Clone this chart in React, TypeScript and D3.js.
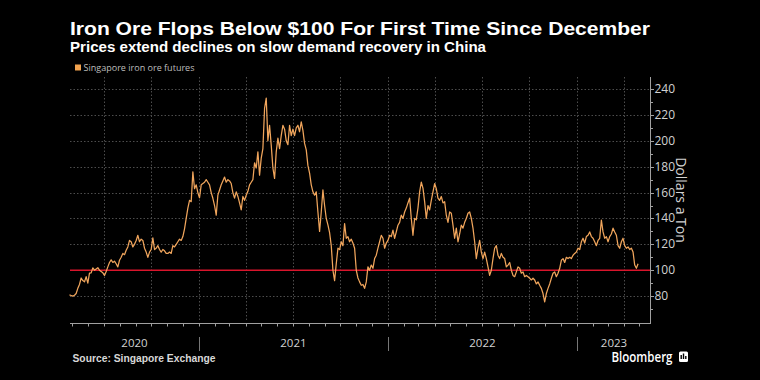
import React from "react";
import * as d3 from "d3";

const titleText = "Iron Ore Flops Below $100 For First Time Since December";
const subtitleText = "Prices extend declines on slow demand recovery in China";
const seriesName = "Singapore iron ore futures";
const sourceText = "Source: Singapore Exchange";
const axisTitle = "Dollars a Ton";
const brandText = "Bloomberg";

const yTickValues = [80, 100, 120, 140, 160, 180, 200, 220, 240];
const yMinorValues = [70, 90, 110, 130, 150, 170, 190, 210, 230];
const yDomain = [60, 249.3];
const xDomain = ["2020-04-27", "2023-05-24"];
const seriesStart = "2020-04-26";
const seriesEnd = "2023-04-29";
const threshold = 100;

// Apr 2020 - early 2021
const pricesA = [
  81, 80.5, 80, 80.7, 82, 86, 89, 94, 92, 91,
  95, 90, 97.7, 98, 101.8, 100, 101, 102, 100, 99,
  98, 96, 99, 102.6, 106, 108, 106, 107, 105, 102.6,
  107.7, 110, 113, 112, 115.5, 118, 123, 122, 118, 120,
  123, 127, 122, 124, 123, 117, 114, 110, 114, 116,
  125, 116, 117, 119, 116, 114, 116, 115, 113, 113,
  114, 113, 119, 118, 120, 122, 124, 123, 126, 132,
  140, 148, 154, 153, 176, 163, 166, 160, 156, 166,
  167, 168, 170, 168, 166, 160, 155.6, 150, 142.5,
];
// 2021
const pricesB = [
  158, 162, 166, 169, 172, 168, 170, 169, 167, 160,
  155.7, 160.6, 157, 152, 146.6, 157, 154, 158, 161, 166,
  168, 170, 183, 179, 191.5, 173.5, 186.6, 194, 225, 233,
  200, 212, 196.7, 179, 171, 191.5, 202, 194, 204, 212,
  209, 200, 197, 212, 204, 209, 204, 210, 212, 207,
  214.7, 208, 198, 193, 181, 175, 166, 160.6, 158, 160.6,
  145, 130, 145, 162, 150, 140, 135, 129, 119, 100,
  92, 105, 117, 116, 122, 119, 136, 124.7, 126, 122,
  124, 121, 117, 100, 94, 91,
];
// 2022
const pricesC = [
  88.4, 89, 86, 91, 102.6, 100, 104, 101.5, 109, 111.6,
  117, 122, 127, 124.7, 117, 121, 123, 127, 126, 131,
  124.7, 129.6, 134.8, 137, 142.5, 140, 145, 148, 152, 155.7,
  140, 127, 140, 139, 148, 160.6, 168, 163.4, 153, 140,
  150, 146.6, 154, 160.6, 167, 163, 155.7, 154, 157, 152,
  153, 142.5, 137, 145, 144, 134.8, 124.7, 132.5, 122, 128,
  134.8, 132.5, 137, 140, 144, 145, 140, 132.5, 122, 109,
  117, 123, 114, 109, 114, 109, 102.6, 96, 100, 109,
  117, 119, 111.6, 109, 113, 110, 109,
];
// late 2022 - 2023
const pricesD = [
  102.6, 104, 106, 100, 96, 95, 98.7, 102.6, 101.5, 97.7,
  98.7, 95, 96, 95, 93.8, 92.5, 93.8, 92.5, 89.4, 91,
  88.4, 86, 82, 75.5, 82, 86, 89.4, 93.8, 97.7, 98.7,
  95, 97.7, 101.5, 107.7, 109, 106, 110, 109, 110, 109,
  111.6, 113, 114, 117, 116, 122, 124.7, 121, 126, 127,
  129.6, 126, 124.7, 122, 119, 123, 124.7, 138.7, 129.6, 124.7,
  126, 122, 126, 128, 132.5, 129.6, 127, 119, 117, 122,
  124.7, 119, 117, 118, 116, 117, 114, 104, 101.5, 105,
];

const prices = [...pricesA, ...pricesB, ...pricesC, ...pricesD];

const parse = d3.utcParse("%Y-%m-%d");

export default function App() {
  const W = 760;
  const H = 380;
  const left = 70;
  const right = 650.5;
  const top = 77;
  const bottom = 322;

  const x = d3
    .scaleUtc()
    .domain(xDomain.map((d) => parse(d) as Date))
    .range([left, 651]);
  const y = d3.scaleLinear().domain(yDomain).range([bottom, top]);

  const t0 = (parse(seriesStart) as Date).getTime();
  const t1 = (parse(seriesEnd) as Date).getTime();
  const n = prices.length;
  const data: [Date, number][] = prices.map((v, i) => [
    new Date(t0 + ((t1 - t0) * i) / (n - 1)),
    v,
  ]);

  const line = d3
    .line<[Date, number]>()
    .x((d) => x(d[0]))
    .y((d) => y(d[1]));

  const [d0, d1] = x.domain();
  const quarters = d3.utcMonth.every(3)!.range(d0, d1).filter((d) => x(d) > left + 2);
  const months = d3.utcMonth.range(d0, d1);
  const yearStarts = d3.utcYear.range(d0, d1).filter((d) => x(d) > left + 2);
  const years = d3.utcYear.range(d3.utcYear.floor(d0), d1);

  const gridColor = "#4d4d4d";
  const labelColor = "#d2d2d2";
  const uiFont = "'Open Sans', 'Noto Sans', sans-serif";
  const titleFont = "'Liberation Sans', Arial, sans-serif";

  return (
    <svg
      width={W}
      height={H}
      style={{ position: "absolute", left: 0, top: 0, background: "#000" }}
    >
      <rect x={0} y={0} width={W} height={H} fill="#000" />

      <text x={70} y={35} fill="#fff" fontFamily={titleFont} fontWeight="bold" fontSize={19}
        textLength={580} lengthAdjust="spacingAndGlyphs">
        {titleText}
      </text>
      <text x={70} y={51.5} fill="#fff" fontFamily={titleFont} fontWeight="bold" fontSize={14}
        textLength={416} lengthAdjust="spacingAndGlyphs">
        {subtitleText}
      </text>

      <rect x={75} y={64.5} width={6} height={6} fill="#f2a24e" />
      <text x={83.5} y={71} fill="#bdbdbd" fontFamily={uiFont} fontSize={9.5}
        textLength={111} lengthAdjust="spacingAndGlyphs">
        {seriesName}
      </text>

      {/* horizontal grid */}
      {yTickValues.map((v) => (
        <line key={"hg" + v} x1={left} x2={right} y1={Math.round(y(v)) + 0.5} y2={Math.round(y(v)) + 0.5}
          stroke={gridColor} strokeDasharray="1.5,2" />
      ))}
      {/* vertical grid */}
      {quarters.map((d) => (
        <line key={"vg" + d.getTime()} x1={Math.round(x(d)) + 0.5} x2={Math.round(x(d)) + 0.5}
          y1={top} y2={bottom} stroke={gridColor} strokeDasharray="1.5,2" />
      ))}

      {/* threshold line */}
      <line x1={left} x2={right} y1={y(threshold)} y2={y(threshold)} stroke="#d9152c" strokeWidth={1.5} />

      {/* price line */}
      <path d={line(data) || ""} fill="none" stroke="#f0a55c" strokeWidth={1.25} strokeLinejoin="round" />

      {/* y axis */}
      <line x1={right} x2={right} y1={top} y2={bottom + 1} stroke="#a0a0a0" />
      {yTickValues.map((v) => (
        <g key={"yt" + v}>
          <line x1={right} x2={right + 3.5} y1={Math.round(y(v)) + 0.5} y2={Math.round(y(v)) + 0.5} stroke="#a0a0a0" />
          <text x={654.5} y={y(v) + 4} fill={labelColor} fontFamily={uiFont} fontSize={12}>
            {v}
          </text>
        </g>
      ))}
      {yMinorValues.map((v) => (
        <line key={"ym" + v} x1={right} x2={right + 2.5} y1={Math.round(y(v)) + 0.5} y2={Math.round(y(v)) + 0.5} stroke="#a0a0a0" />
      ))}
      <text transform={`translate(676,200) rotate(90)`} textAnchor="middle" fill={labelColor}
        fontFamily={uiFont} fontSize={14}>
        {axisTitle}
      </text>

      {/* x axis */}
      <line x1={left} x2={651} y1={323.5} y2={323.5} stroke="#a0a0a0" />
      {months.map((d) => (
        <line key={"mt" + d.getTime()} x1={Math.round(x(d)) + 0.5} x2={Math.round(x(d)) + 0.5}
          y1={323.5} y2={326.5} stroke="#a0a0a0" />
      ))}
      {yearStarts.map((d) => (
        <line key={"ys" + d.getTime()} x1={Math.round(x(d)) + 0.5} x2={Math.round(x(d)) + 0.5}
          y1={337} y2={351} stroke="#777" />
      ))}
      {years.map((d) => {
        const a = Math.max(x(d), left);
        const b = Math.min(x(d3.utcYear.offset(d, 1)), 651);
        return (
          <text key={"yl" + d.getTime()} x={(a + b) / 2} y={346.5} textAnchor="middle" fill={labelColor}
            fontFamily={uiFont} fontSize={11.5}>
            {d3.utcFormat("%Y")(d)}
          </text>
        );
      })}

      <text x={72.5} y={362} fill="#d8d8d8" fontFamily={titleFont} fontWeight="bold" fontSize={10.5}
        textLength={143} lengthAdjust="spacingAndGlyphs">
        {sourceText}
      </text>

      <text x={611.5} y={362} fill="#fff" fontFamily={uiFont} fontWeight={600} fontSize={13.5}
        textLength={61} lengthAdjust="spacingAndGlyphs">
        {brandText}
      </text>
      <rect x={679} y={351.5} width={9} height={10.5} rx={1.5} fill="#fff" />
      <rect x={680.5} y={355} width={1.4} height={4} fill="#000" />
      <rect x={682.8} y={353.5} width={1.4} height={5.5} fill="#000" />
      <rect x={685.1} y={356} width={1.4} height={3} fill="#000" />
    </svg>
  );
}
